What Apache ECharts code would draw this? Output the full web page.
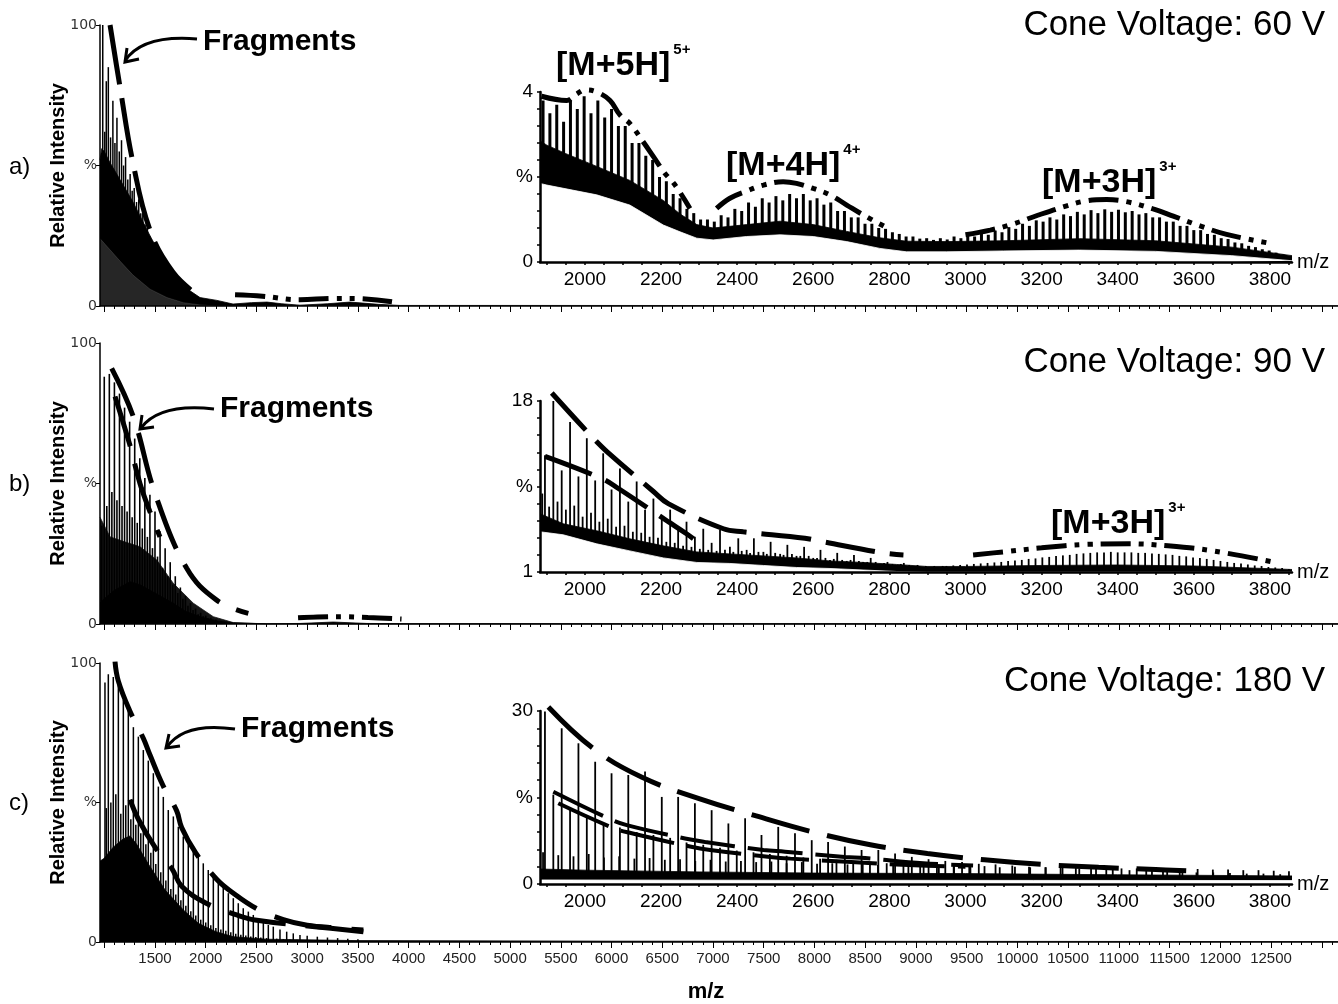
<!DOCTYPE html>
<html><head><meta charset="utf-8">
<script src="https://cdn.jsdelivr.net/npm/echarts@6/dist/echarts.min.js"></script>
<style>html,body{margin:0;padding:0;background:#fff}#c{width:1338px;height:1004px}</style>
</head><body><div id="c"></div><script>
// ---------- tick labels ----------
const mainTickLabels = [1500,2000,2500,3000,3500,4000,4500,5000,5500,6000,6500,7000,7500,8000,8500,9000,9500,10000,10500,11000,11500,12000,12500];
const insetTickLabels = [2000,2200,2400,2600,2800,3000,3200,3400,3600,3800];
const panelLetters = ['a)','b)','c)'];
const coneVoltages = ['Cone Voltage: 60 V','Cone Voltage: 90 V','Cone Voltage: 180 V'];

// ---------- panel a (60 V) main spectrum ----------
const aMainSpikes = [[985,100],[1005,62],[1020,80],[1040,85],[1062,60],[1085,73],[1105,58],[1125,67],[1148,55],[1170,59],[1190,50],[1210,53],[1232,45],[1255,47],[1275,41],[1295,42],[1318,37],[1340,38],[1360,33],[1380,33],[1402,29],[1425,28],[1447,25],[1470,23],[1492,21],[1515,20],[1537,17],[1560,16],[1582,14],[1605,14],[1627,12],[1650,12],[1672,10],[1695,9],[1717,8],[1740,7],[1762,6],[1785,6],[1807,5],[1830,5],[1852,4],[1875,4],[1900,3.5],[1925,3]];
const aMainBandTop = [[958,52],[975,56],[1000,55],[1057,51],[1155,45],[1283,37],[1451,25],[1618,14],[1780,7],[1944,3],[2111,2],[2269,0.7],[2450,1.2],[2604,1.4],[2750,0.8],[2929,0.3],[3200,0.8],[3422,1.4],[3700,0.6],[3915,0.2],[5000,0.2],[13160,0.1]];
const aMainBandBottom = [[958,24],[1057,20],[1155,16],[1283,11],[1451,6],[1618,3],[1780,1.2],[1944,0.4],[2100,0],[13160,0]];
const aMainEnvDash = [[1057,100],[1155,78],[1283,51],[1451,27],[1678,12],[1914,4]];
const aMainEnvDashDot = [[2289,4.0],[2560,3.5],[2930,2.2],[3250,2.7],[3450,2.7],[3836,1.5]];

// ---------- panel b (90 V) main spectrum ----------
const bMainTall = [[1000,88],[1050,89],[1100,86],[1150,82],[1200,77],[1250,72],[1300,66],[1350,59],[1400,52],[1450,46],[1500,40],[1550,33],[1600,27],[1650,22],[1700,17],[1750,13],[1800,10],[1850,7.5],[1900,5.5],[1950,4],[2000,3],[2050,2.2],[2100,1.6],[2150,1.1],[2200,0.8]];
const bMainMid = [[975,35],[1025,42],[1075,47],[1125,44],[1175,42],[1225,40],[1275,38],[1325,36],[1375,34],[1425,31],[1475,27],[1525,24],[1575,20],[1625,17],[1675,14],[1725,11],[1775,9],[1825,6.5],[1875,5],[1925,3.5],[1975,2.8],[2025,2],[2075,1.5]];
const bMainDense = [[958,38],[1057,31],[1221,29],[1352,27.5],[1517,22.8],[1680,14.5],[1878,7.4],[2075,2.6],[2272,0.5],[2601,0],[13160,0]];
const bMainHump = [[958,7.5],[1000,9],[1100,12],[1254,15],[1350,14],[1451,12],[1550,10],[1680,7.4],[1800,4.5],[1944,2.6],[2100,1.2],[2270,0.4],[2601,0.1],[2929,0.2],[3257,0.7],[3587,0.2],[4000,0.1],[13160,0.05]];
const bMainEnvOuter = [[1073,91],[1286,73.8],[1500,46.5],[1813,19.8],[2108,8.5],[2420,3.8]];
const bMainEnvInner = [[1106,81],[1250,64],[1352,50],[1450,40],[1549,31]];
const bMainEnvDashDot = [[2910,2.2],[3100,2.5],[3350,2.6],[3600,2.3],[3930,1.8]];

// ---------- panel c (180 V) main spectrum ----------
const cMainTall = [[1007,93],[1040,96],[1089,95],[1139,92.7],[1188,86.7],[1237,83],[1287,77],[1336,73.6],[1385,68.8],[1434,65],[1484,60.5],[1533,55.7],[1582,52],[1631,47.3],[1681,45],[1730,41.3],[1779,37.8],[1828,35.4],[1878,33],[1927,30.6],[1976,28.2],[2025,25.8],[2075,23.4],[2124,21],[2173,19.8],[2223,17.5],[2272,15.7],[2321,13.9],[2370,12.1],[2420,10.9],[2469,9.7],[2518,8.5],[2568,7.3],[2617,6.1],[2666,5.5],[2732,4.5],[2798,3.7],[2863,3.1],[2929,2.5],[3000,2.2],[3100,1.9],[3200,1.6],[3300,1.4],[3400,1.2],[3500,1.0]];
const cMainMid = [[1020,48],[1065,50],[1114,53],[1163,46],[1212,49],[1262,44],[1311,42],[1360,39],[1410,35],[1459,32],[1508,28],[1557,25],[1607,22],[1656,19],[1705,17],[1755,15],[1804,13],[1853,11],[1902,9.5],[1951,8],[2000,7],[2050,6],[2100,5],[2149,4.5],[2198,4],[2247,3.5],[2296,3],[2346,2.6],[2395,2.3],[2444,2],[2494,1.8],[2543,1.6],[2600,1.4],[2700,1.2],[2765,1.0],[2830,0.9],[2900,0.8]];
const cMainBand = [[958,29],[1000,30],[1089,34],[1188,37],[1254,38],[1320,35],[1434,28],[1600,18.6],[1779,11.5],[1927,6.7],[2100,3.7],[2272,1.9],[2600,1],[3500,0.5],[5000,0.4],[6000,0.3],[13160,0.15]];
const cMainEnvOuter = [[1106,100.5],[1139,93.5],[1250,83],[1385,73],[1451,67],[1580,56],[1714,47],[1763,41],[1900,32],[2108,22.5],[2239,18.4],[2500,12],[2765,8],[3000,6],[3300,5],[3554,4.3]];
const cMainEnvInner = [[1254,51],[1336,44],[1500,34],[1665,26.4],[1763,20],[2000,14],[2305,9.7],[2486,7.9],[3077,5.5],[3554,3.7]];

// ---------- inset a: 1880-3860, 0-4 % ----------
const aInsetSpikes = [[1890,3.8],[1908,3.5],[1926,3.7],[1944,3.3],[1962,3.8],[1980,3.6],[1998,3.9],[2016,3.5],[2034,3.8],[2052,3.4],[2070,3.6],[2088,3.2],[2106,3.2],[2124,2.8],[2142,2.8],[2160,2.5],[2178,2.4],[2196,2.0],[2214,1.9],[2232,1.6],[2250,1.5],[2268,1.25],[2286,1.15],[2304,1.0],[2322,1.0],[2340,0.95],[2358,1.1],[2376,1.05],[2394,1.25],[2412,1.2],[2430,1.4],[2448,1.3],[2466,1.5],[2484,1.4],[2502,1.55],[2520,1.45],[2538,1.6],[2556,1.5],[2574,1.6],[2592,1.45],[2610,1.5],[2628,1.35],[2646,1.4],[2664,1.2],[2682,1.2],[2700,1.05],[2718,1.05],[2736,0.9],[2754,0.9],[2772,0.8],[2790,0.78],[2808,0.7],[2826,0.66],[2844,0.6],[2862,0.6],[2880,0.55],[2898,0.56],[2916,0.52],[2934,0.56],[2952,0.53],[2970,0.6],[2988,0.56],[3006,0.63],[3024,0.6],[3042,0.68],[3060,0.64],[3078,0.74],[3096,0.7],[3114,0.82],[3132,0.78],[3150,0.9],[3168,0.85],[3186,0.98],[3204,0.95],[3222,1.05],[3240,1.0],[3258,1.12],[3276,1.08],[3294,1.18],[3312,1.12],[3330,1.22],[3348,1.15],[3366,1.24],[3384,1.18],[3402,1.23],[3420,1.17],[3438,1.2],[3456,1.12],[3474,1.15],[3492,1.05],[3510,1.05],[3528,0.95],[3546,0.95],[3564,0.85],[3582,0.85],[3600,0.75],[3618,0.75],[3636,0.66],[3654,0.64],[3672,0.56],[3690,0.54],[3708,0.46],[3726,0.44],[3744,0.38],[3762,0.35],[3780,0.3],[3798,0.27],[3816,0.22],[3834,0.18],[3852,0.12]];
const aInsetBandTop = [[1882,2.85],[1900,2.75],[1950,2.55],[2031,2.25],[2118,1.92],[2206,1.45],[2250,1.13],[2294,0.88],[2337,0.8],[2425,0.88],[2513,0.96],[2600,0.88],[2688,0.72],[2775,0.57],[2845,0.49],[2950,0.48],[3100,0.5],[3300,0.55],[3500,0.5],[3700,0.35],[3858,0.15]];
const aInsetBandBottom = [[1882,1.85],[1900,1.81],[2031,1.58],[2118,1.34],[2206,0.87],[2250,0.71],[2294,0.56],[2337,0.52],[2425,0.6],[2513,0.64],[2600,0.6],[2688,0.48],[2775,0.32],[2845,0.24],[2950,0.24],[3100,0.26],[3300,0.28],[3500,0.25],[3700,0.15],[3858,0.03]];
const aInsetEnv5 = [[1886,3.9],[1952,3.8],[1978,3.95],[2000,4.05],[2031,4.0],[2066,3.8],[2092,3.46],[2118,3.26],[2153,2.83],[2180,2.48],[2210,2.09],[2237,1.81],[2276,1.26]];
const aInsetEnv4 = [[2346,1.26],[2381,1.5],[2425,1.67],[2469,1.81],[2521,1.89],[2556,1.85],[2600,1.73],[2644,1.58],[2688,1.34],[2731,1.11],[2797,0.79]];
const aInsetEnv3 = [[3000,0.64],[3065,0.75],[3127,0.9],[3190,1.1],[3266,1.32],[3318,1.44],[3371,1.47],[3423,1.42],[3493,1.25],[3546,1.08],[3616,0.85],[3686,0.65],[3800,0.44]];

// ---------- inset b: 1-18 % ----------
const bInsetTall = [[1917,18.4],[1961,15.9],[2005,14.3],[2048,12.8],[2092,11.3],[2136,10.0],[2180,8.3],[2224,7.2],[2267,6.0],[2311,5.3],[2355,5.2],[2403,4.35],[2444,4.35],[2488,4.0],[2532,3.7],[2576,3.5],[2619,3.2],[2663,2.9],[2707,2.7],[2751,2.4],[2795,2.0],[2838,1.9]];
const bInsetMid = [[1895,12.6],[1939,11.1],[1983,10.5],[2027,10.1],[2070,9.2],[2114,8.0],[2158,7.2],[2202,6.2],[2245,5.2],[2289,4.5],[2333,3.9],[2381,3.5],[2425,3.2],[2469,3.0],[2513,2.8],[2556,2.6],[2600,2.4],[2644,2.2],[2688,2.1],[2731,2.0],[2775,1.8],[2819,1.7]];
const bInsetNoise = [[1888,8.8],[1906,7.5],[1928,8.0],[1950,7.2],[1972,7.6],[1994,6.5],[2016,6.9],[2038,6.0],[2060,6.3],[2082,5.5],[2104,5.6],[2126,5.0],[2148,4.9],[2170,4.5],[2192,4.4],[2214,4.0],[2236,3.9],[2258,3.6],[2280,3.5],[2302,3.3],[2324,3.2],[2346,3.1],[2368,3.2],[2390,3.0],[2412,3.1],[2434,2.9],[2456,3.0],[2478,2.8],[2500,2.9],[2522,2.7],[2544,2.8],[2566,2.6],[2588,2.6],[2610,2.4],[2632,2.4],[2654,2.3],[2676,2.2],[2698,2.2],[2720,2.1],[2742,2.0],[2764,2.0],[2786,1.9],[2808,1.8],[2830,1.8],[2852,1.7],[2874,1.7],[2896,1.6],[2918,1.6],[2940,1.6]];
const bInsetM3 = [[2950,1.6],[2968,1.65],[2986,1.7],[3004,1.75],[3022,1.8],[3040,1.85],[3058,1.9],[3076,1.95],[3094,2.0],[3112,2.1],[3130,2.15],[3148,2.2],[3166,2.3],[3184,2.35],[3202,2.45],[3220,2.5],[3238,2.6],[3256,2.65],[3274,2.7],[3292,2.8],[3310,2.85],[3328,2.9],[3346,2.95],[3364,2.95],[3382,3.0],[3400,2.95],[3418,2.95],[3436,2.95],[3454,2.9],[3472,2.9],[3490,2.85],[3508,2.8],[3526,2.75],[3544,2.7],[3562,2.6],[3580,2.55],[3598,2.45],[3616,2.4],[3634,2.3],[3652,2.2],[3670,2.1],[3688,2.0],[3706,1.9],[3724,1.85],[3742,1.75],[3760,1.65],[3778,1.6],[3796,1.5],[3814,1.45],[3832,1.4],[3850,1.3]];
const bInsetBandTop = [[1882,6.8],[1943,5.8],[2031,5.1],[2118,4.3],[2206,3.6],[2294,3.0],[2381,2.8],[2469,2.6],[2556,2.4],[2644,2.1],[2731,1.95],[2819,1.75],[2898,1.55],[3000,1.55],[3200,1.65],[3400,1.7],[3600,1.6],[3858,1.25]];
const bInsetBandBottom = [[1882,5.0],[1943,4.7],[2031,3.8],[2118,3.1],[2206,2.4],[2294,1.95],[2381,1.85],[2469,1.65],[2556,1.45],[2644,1.35],[2731,1.2],[2819,1.05],[2898,1.0],[3858,1.0]];
const bInsetEnvOuter = [[1913,18.8],[2022,14.3],[2057,13.0],[2180,9.0],[2219,7.8],[2364,5.3],[2416,5.0],[2578,4.35],[2626,4.0],[2784,2.9],[2837,2.7]];
const bInsetEnvInner = [[1895,12.5],[2044,10.3],[2088,9.3],[2219,6.0],[2267,4.8],[2285,4.3]];
const bInsetEnv3 = [[3020,2.7],[3100,3.0],[3200,3.4],[3322,3.75],[3430,3.8],[3532,3.6],[3650,3.1],[3808,2.0]];

// ---------- inset c: 0-30 % ----------
const cInsetTall = [[1895,29.9],[1939,27.0],[1983,24.4],[2027,21.2],[2070,19.2],[2114,18.9],[2158,19.5],[2202,15.1],[2245,15.1],[2289,14.0],[2333,12.8],[2377,10.5],[2421,11.4],[2464,8.5],[2508,9.9],[2552,8.8],[2596,7.6],[2639,7.3],[2683,6.5],[2727,5.9],[2771,5.9],[2815,5.3],[2859,4.7],[2903,4.3],[2947,4.0],[2991,3.8],[3035,3.5],[3079,3.4],[3123,3.2],[3167,3.0],[3211,2.9],[3255,2.8],[3299,2.7],[3343,2.6],[3387,2.5],[3431,2.4],[3475,2.3],[3519,2.2],[3563,2.1],[3607,2.0],[3651,2.0],[3695,1.9],[3739,1.8],[3783,1.8],[3827,1.7]];
const cInsetMid = [[1917,15.5],[1961,13.0],[2005,11.5],[2049,10.5],[2092,9.8],[2136,9.0],[2180,8.5],[2224,8.0],[2267,7.2],[2311,6.8],[2355,6.3],[2399,5.8],[2443,5.5],[2486,5.2],[2530,4.9],[2574,4.6],[2618,4.4],[2661,4.2],[2705,4.0],[2749,3.8],[2793,3.6],[2837,3.4],[2881,3.3],[2925,3.2],[2969,3.1],[3013,3.0]];
const cInsetNoise = [[1890,5.5],[1930,5.0],[1970,4.8],[2010,5.2],[2050,4.6],[2090,4.8],[2130,4.4],[2170,4.5],[2210,4.2],[2250,4.3],[2290,4.0],[2330,4.2],[2370,3.9],[2410,4.0],[2450,3.8],[2490,3.9],[2530,3.6],[2570,3.8],[2610,3.5],[2650,3.6],[2690,3.4],[2730,3.5],[2770,3.3],[2810,3.4],[2850,3.2],[2890,3.3],[2930,3.1],[2970,3.2],[3010,3.0],[3050,3.1],[3090,2.9],[3130,3.0],[3170,2.9],[3210,2.9],[3250,2.8],[3290,2.9],[3330,2.7],[3370,2.8],[3410,2.7],[3450,2.7],[3490,2.6],[3530,2.7],[3570,2.5],[3610,2.6],[3650,2.5],[3690,2.5],[3730,2.4],[3770,2.4],[3810,2.3],[3850,2.2]];
const cInsetBandTop = [[1882,2.6],[2000,2.4],[2300,2.1],[2600,1.9],[3000,1.8],[3400,1.6],[3858,1.4]];
const cInsetBandBottom = [[1882,0.7],[2500,0.65],[3858,0.6]];
const cInsetEnvOuter = [[1904,30.7],[2022,23.5],[2150,18.5],[2300,14.8],[2450,11.8],[2600,9.0],[2750,6.8],[2900,5.3],[3050,4.2],[3200,3.4],[3350,2.9],[3500,2.5],[3580,2.3]];
const cInsetEnvInner1 = [[1917,16.0],[2061,11.4],[2110,10.2],[2263,7.9],[2316,7.3],[2469,5.9],[2526,5.6],[2683,4.7],[2736,4.5],[2889,3.6],[3020,3.2]];
const cInsetEnvInner2 = [[1930,14.0],[2075,9.7],[2123,8.8],[2276,6.5],[2329,5.9],[2487,4.7],[2540,4.4],[2700,3.8],[2850,3.3],[3000,3.0]];

// ---------- helpers ----------
const FONT = '"Liberation Sans", Arial, Helvetica, sans-serif';
const FONT_WIDE = '"DejaVu Sans", Verdana, sans-serif';
function steps(a, b, s) { const r = []; for (let v = a; v <= b + 1e-9; v += s) r.push(+v.toFixed(4)); return r; }
const mainMajorTicks = steps(1000, 13000, 500);
const mainMinorTicks = steps(1000, 13100, 100);
const insetMinorTicks = steps(1900, 3850, 50);

const MAIN_MIN = 958, MAIN_MAX = 13160, INS_MIN = 1882, INS_MAX = 3858;
const mainTops = [25, 343, 663], mainHeights = [281, 281, 279];
const insetTops = [92, 401, 711], insetHeights = [170, 171, 173];

const grids = [];
for (let i = 0; i < 3; i++) grids.push({left: 100, top: mainTops[i], width: 1238, height: mainHeights[i]});
for (let i = 0; i < 3; i++) grids.push({left: 540, top: insetTops[i], width: 752, height: insetHeights[i]});

const plain = v => String(v);
const xAxes = [], yAxes = [];
for (let i = 0; i < 3; i++) xAxes.push({
  type: 'value', gridIndex: i, min: MAIN_MIN, max: MAIN_MAX, position: 'bottom', z: 10,
  axisLine: {show: true, onZero: false, lineStyle: {color: '#000', width: 1.5}},
  axisTick: {show: true, customValues: mainMajorTicks, length: 6, lineStyle: {color: '#000', width: 1}},
  axisLabel: {show: i === 2, customValues: mainTickLabels, margin: 9, color: '#222', fontSize: 15, fontFamily: FONT, formatter: plain},
  splitLine: {show: false}
});
for (let i = 0; i < 3; i++) xAxes.push({
  type: 'value', gridIndex: i, min: MAIN_MIN, max: MAIN_MAX, position: 'bottom', z: 10,
  axisLine: {show: false}, axisLabel: {show: false}, splitLine: {show: false},
  axisTick: {show: true, customValues: mainMinorTicks, length: 3, lineStyle: {color: '#000', width: 1}}
});
for (let i = 0; i < 3; i++) xAxes.push({
  type: 'value', gridIndex: 3 + i, min: INS_MIN, max: INS_MAX, position: 'bottom', z: 12,
  name: 'm/z', nameLocation: 'end', nameGap: 5, nameMoveOverlap: false,
  nameTextStyle: {fontSize: 20, fontFamily: FONT, color: '#000', verticalAlign: 'middle'},
  axisLine: {show: true, onZero: false, lineStyle: {color: '#000', width: 2.5}},
  axisTick: {show: true, customValues: insetMinorTicks, length: 3, lineStyle: {color: '#000', width: 1.5}},
  axisLabel: {customValues: insetTickLabels, margin: 8, color: '#000', fontSize: 19, fontFamily: FONT, formatter: plain},
  splitLine: {show: false}
});
for (let i = 0; i < 3; i++) yAxes.push({
  type: 'value', gridIndex: i, min: 0, max: 100, interval: 50, z: 10,
  name: 'Relative Intensity', nameLocation: 'middle', nameGap: 32, nameMoveOverlap: false,
  nameTextStyle: {fontSize: 20, fontWeight: 'bold', fontFamily: FONT, color: '#000'},
  axisLine: {show: true, onZero: false, lineStyle: {color: '#000', width: 1.5}},
  axisTick: {show: true, length: 4, lineStyle: {color: '#000'}},
  axisLabel: {fontSize: 14, color: '#333', margin: 3, fontFamily: FONT_WIDE, formatter: v => v === 50 ? '%' : String(v)},
  splitLine: {show: false}
});
const insetY = [[0, 4], [1, 18], [0, 30]];
for (let i = 0; i < 3; i++) {
  const [mn, mx] = insetY[i];
  const mid = (mn + mx) / 2;
  yAxes.push({
    type: 'value', gridIndex: 3 + i, min: mn, max: mx, z: 12,
    axisLine: {show: true, onZero: false, lineStyle: {color: '#000', width: 2.5}},
    axisTick: {show: true, customValues: steps(mn, mx, (mx - mn) / 10), length: 3, lineStyle: {color: '#000', width: 1.5}},
    axisLabel: {customValues: [mn, mid, mx], margin: 7, color: '#000', fontSize: 19, fontFamily: FONT,
      formatter: v => Math.abs(v - mid) < 1e-6 ? '%' : String(v)},
    splitLine: {show: false}
  });
}

function spikes(data, xi, yi, w) {
  return {type: 'bar', xAxisIndex: xi, yAxisIndex: yi, data: data, barWidth: w, z: 2, silent: true,
    itemStyle: {color: '#000'}};
}
function band(data, xi, yi, color, z) {
  return {type: 'line', xAxisIndex: xi, yAxisIndex: yi, data: data, symbol: 'none', silent: true, z: z,
    lineStyle: {width: 0.8, color: color}, areaStyle: {color: color, opacity: 1}};
}
function env(data, xi, yi, dash, width) {
  return {type: 'line', xAxisIndex: xi, yAxisIndex: yi, data: data, symbol: 'none', silent: true, z: 6,
    smooth: 0.4, clip: false, lineStyle: {color: '#000', width: width, type: dash, cap: 'butt'}};
}
const DDOT = [30, 8, 5, 8, 5, 8];

const series = [
  // panel a main
  spikes(aMainSpikes, 0, 0, 1.5),
  band(aMainBandTop, 0, 0, '#000', 3),
  band(aMainBandBottom, 0, 0, 'rgba(255,255,255,0.15)', 4),
  env(aMainEnvDash, 0, 0, [60, 14], 5),
  env(aMainEnvDashDot, 0, 0, DDOT, 5),
  // panel b main
  band(bMainDense, 1, 1, '#151515', 1),
  spikes(bMainTall.concat(bMainMid), 1, 1, 1.6),
  band(bMainHump, 1, 1, '#000', 3),
  env(bMainEnvOuter, 1, 1, [52, 18], 5),
  env(bMainEnvInner, 1, 1, [52, 18], 5),
  env(bMainEnvDashDot, 1, 1, DDOT, 5),
  // panel c main
  spikes(cMainTall.concat(cMainMid), 2, 2, 1.5),
  band(cMainBand, 2, 2, '#000', 3),
  env(cMainEnvOuter, 2, 2, [58, 20], 5),
  env(cMainEnvInner, 2, 2, [58, 20], 5),
  // inset a
  spikes(aInsetSpikes, 6, 3, 3),
  band(aInsetBandTop, 6, 3, '#000', 3),
  band(aInsetBandBottom, 6, 3, '#fff', 4),
  env(aInsetEnv5, 6, 3, DDOT, 5),
  env(aInsetEnv4, 6, 3, DDOT, 5),
  env(aInsetEnv3, 6, 3, DDOT, 5),
  // inset b
  spikes(bInsetTall.concat(bInsetMid, bInsetNoise, bInsetM3), 7, 4, 1.8),
  band(bInsetBandTop, 7, 4, '#000', 3),
  band(bInsetBandBottom, 7, 4, '#fff', 4),
  env(bInsetEnvOuter, 7, 4, [50, 15], 5),
  env(bInsetEnvInner, 7, 4, [50, 15], 5),
  env(bInsetEnv3, 7, 4, DDOT, 5),
  // inset c
  spikes(cInsetTall.concat(cInsetMid, cInsetNoise), 8, 5, 1.8),
  band(cInsetBandTop, 8, 5, '#000', 3),
  band(cInsetBandBottom, 8, 5, '#fff', 4),
  env(cInsetEnvOuter, 8, 5, [60, 18], 5),
  env(cInsetEnvInner1, 8, 5, [55, 13], 4),
  env(cInsetEnvInner2, 8, 5, [55, 13], 4)
];

// ---------- annotations ----------
const measureCtx = document.createElement('canvas').getContext('2d');
function textWidth(text, font) { measureCtx.font = font; return measureCtx.measureText(text).width; }
function txt(text, x, y, font, align, va) {
  return {type: 'text', x: x, y: y, z: 20, silent: true,
    style: {text: text, font: font, fill: '#000', align: align || 'left', verticalAlign: va || 'middle'}};
}
const graphics = [];
const letterY = [167, 484, 803], coneY = [25, 362, 681];
for (let i = 0; i < 3; i++) {
  graphics.push(txt(panelLetters[i], 9, letterY[i], '24px ' + FONT));
  graphics.push(txt(coneVoltages[i], 1325, coneY[i], '35px ' + FONT, 'right'));
}
const fragPos = [[203, 42], [220, 409], [241, 729]];
const arrows = [
  {s: [197, 39], c1: [160, 36], c2: [136, 44], e: [125, 61], h: [[127, 48], [125, 62], [139, 59]]},
  {s: [214, 409], c1: [178, 405], c2: [153, 412], e: [141, 428], h: [[142, 415], [140, 429], [154, 427]]},
  {s: [235, 729], c1: [200, 724], c2: [178, 731], e: [167, 747], h: [[169, 734], [166, 748], [180, 746]]}
];
for (let i = 0; i < 3; i++) {
  graphics.push(txt('Fragments', fragPos[i][0], fragPos[i][1], 'bold 30px ' + FONT));
  const a = arrows[i];
  graphics.push({type: 'bezierCurve', z: 20, silent: true,
    shape: {x1: a.s[0], y1: a.s[1], cpx1: a.c1[0], cpy1: a.c1[1], cpx2: a.c2[0], cpy2: a.c2[1], x2: a.e[0], y2: a.e[1]},
    style: {stroke: '#000', lineWidth: 3, fill: null}});
  graphics.push({type: 'polyline', z: 20, silent: true, shape: {points: a.h},
    style: {stroke: '#000', lineWidth: 3, fill: null}});
}
const ionLabels = [
  {t: '[M+5H]', s: '5+', x: 556, y: 66},
  {t: '[M+4H]', s: '4+', x: 726, y: 166},
  {t: '[M+3H]', s: '3+', x: 1042, y: 183},
  {t: '[M+3H]', s: '3+', x: 1051, y: 524}
];
const ION_FONT = 'bold 34px ' + FONT, SUP_FONT = 'bold 15px ' + FONT;
ionLabels.forEach(l => {
  graphics.push(txt(l.t, l.x, l.y, ION_FONT));
  graphics.push(txt(l.s, l.x + textWidth(l.t, ION_FONT) + 3, l.y - 16, SUP_FONT));
});
graphics.push(txt('m/z', 706, 992, 'bold 22px ' + FONT, 'center'));

const chart = echarts.init(document.getElementById('c'), null, {renderer: 'canvas'});
chart.setOption({
  animation: false,
  backgroundColor: '#fff',
  grid: grids,
  xAxis: xAxes,
  yAxis: yAxes,
  series: series,
  graphic: graphics
});
</script></body></html>
